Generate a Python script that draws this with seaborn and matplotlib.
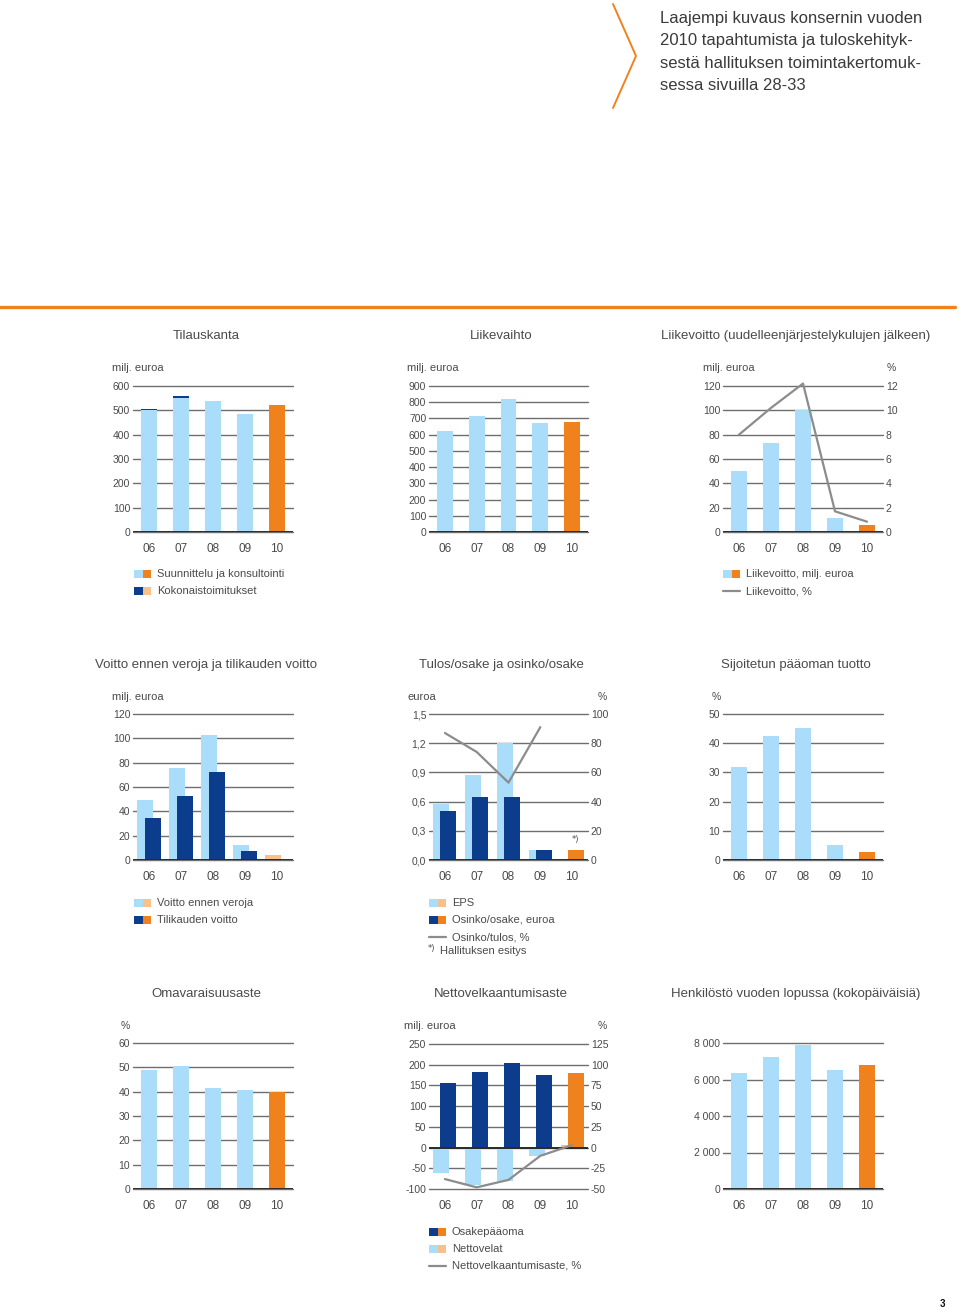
import numpy as np
import matplotlib
matplotlib.use("Agg")
import matplotlib.pyplot as plt
import seaborn as sns
from matplotlib.patches import Rectangle
from matplotlib.lines import Line2D

years = ['06', '07', '08', '09', '10']

# Tilauskanta, milj. euroa
order_design = [500, 550, 538, 483, 523]
order_turnkey = [5, 10, 0, 2]
# Liikevaihto
revenue = [621, 716, 818, 670, 681]
# Liikevoitto
ebit = [50, 73.5, 100, 11.5, 6]
ebit_pct = [8.0, 10.2, 12.2, 1.7, 0.85]
# Voitto ennen veroja / tilikauden voitto
pretax = [49.6, 75.9, 103, 12.3, 4.4]
net_profit = [34.5, 52.9, 72.3, 7.7]
# Tulos/osake, osinko/osake, osinko/tulos
eps = [0.577, 0.878, 1.20, 0.106]
dividend = [0.50, 0.65, 0.65, 0.10, 0.10]
payout_pct = [87, 74, 53, 91]
# Sijoitetun paaoman tuotto
roi = [31.8, 42.4, 45.3, 5.25, 2.6]
# Omavaraisuusaste
equity_ratio = [49.0, 50.7, 41.5, 40.7, 40.0]
# Nettovelkaantumisaste
equity = [156.5, 182, 203, 176, 180]
net_debt = [-61.8, -90.7, -80, -20, 6.4]
gearing = [-38, -48, -39, -10, 3]
# Henkilosto
staff = [6356, 7251, 7872, 6502, 6776]

LB = '#a9ddf9'
NV = '#0b3d8c'
OR = '#f0821e'
LO = '#f8c08c'
GR = '#8c8c8c'
TXT = '#4a4a4a'
GRID = '#6e6e6e'
AX = '#2a2a2a'

sns.set_theme(style='white')
plt.rcParams['font.family'] = ['Liberation Sans', 'DejaVu Sans']

W, H = 960, 1310
fig = plt.figure(figsize=(9.6, 13.1), dpi=100)


def fx(x):
    return x / W


def fy(y):
    return 1 - y / H


def panel(x0, y0, x1, y1):
    return fig.add_axes([fx(x0), fy(y1), (x1 - x0) / W, (y1 - y0) / H])


def bars(ax, vals, colors, shift=0.0, zorder=2):
    n = len(vals)
    xs = np.arange(n) + shift
    sns.barplot(x=xs, y=vals, hue=years[:n], palette=dict(zip(years, colors)),
                native_scale=True, width=0.5, legend=False, saturation=1,
                errorbar=None, linewidth=0, edgecolor='none', ax=ax, zorder=zorder)


def style(ax, ticks, labels):
    ax.set_ylim(ticks[0], ticks[-1])
    ax.set_yticks(ticks)
    ax.set_yticklabels(labels, fontsize=7.5, color=TXT)
    ax.set_xlim(-0.5, 4.5)
    ax.set_xticks(range(5))
    ax.set_xticklabels(years, fontsize=8.5, color=TXT)
    ax.tick_params(axis='y', length=0, pad=2)
    ax.tick_params(axis='x', length=0, pad=8)
    ax.grid(axis='y', color=GRID, lw=1.0)
    ax.grid(axis='x', visible=False)
    ax.set_axisbelow(True)
    for g in ax.get_ygridlines():
        g.set_clip_on(False)
    for s in ax.spines.values():
        s.set_visible(False)
    ax.axhline(0, color=AX, lw=1.4, zorder=5)
    ax.set_xlabel('')
    ax.set_ylabel('')


def right_axis(ax, ticks, labels, vals):
    ax2 = ax.twinx()
    sns.lineplot(x=np.arange(len(vals)), y=vals, color=GR, lw=1.6, ax=ax2)
    for ln in ax2.lines:
        ln.set_clip_on(False)
    ax2.set_ylim(ticks[0], ticks[-1])
    ax2.set_yticks(ticks)
    ax2.set_yticklabels(labels, fontsize=7.5, color=TXT)
    ax2.tick_params(axis='y', length=0, pad=2)
    ax2.grid(False)
    for s in ax2.spines.values():
        s.set_visible(False)
    ax2.set_xlim(-0.5, 4.5)
    ax2.set_xlabel('')
    ax2.set_ylabel('')
    return ax2


def ftext(x, y, s, size=8, **kw):
    kw.setdefault('color', TXT)
    kw.setdefault('va', 'center')
    fig.text(fx(x), fy(y), s, fontsize=size, **kw)


def leg_patch(x, y, colors, label):
    for i, c in enumerate(colors):
        fig.add_artist(Rectangle((fx(x + 8.5 * i), fy(y + 4)), 8.5 / W, 8 / H,
                                 transform=fig.transFigure, color=c, lw=0))
    ftext(x + 23, y, label)


def leg_line(x, y, label):
    fig.add_artist(Line2D([fx(x), fx(x + 17)], [fy(y), fy(y)], color=GR, lw=1.6,
                          transform=fig.transFigure))
    ftext(x + 23, y, label)


# header
fig.add_artist(Line2D([fx(613), fx(636), fx(613)], [fy(4), fy(56), fy(108)],
                      color=OR, lw=1.4, transform=fig.transFigure))
for i, line in enumerate(['Laajempi kuvaus konsernin vuoden',
                          '2010 tapahtumista ja tuloskehityk-',
                          'sestä hallituksen toimintakertomuk-',
                          'sessa sivuilla 28-33']):
    ftext(660, 19 + 22 * i, line, size=12, color='#3a3a3a')
fig.add_artist(Line2D([0, fx(955)], [fy(307), fy(307)], color=OR, lw=2.4,
                      transform=fig.transFigure))

blues = [LB] * 4 + [OR]
navies = [NV] * 4 + [OR]
lights = [LB] * 4 + [LO]

# Row 1 ---------------------------------------------------------------
ax = panel(133, 386, 293, 532)
totals = [a + b for a, b in zip(order_design, order_turnkey)]
bars(ax, totals, navies)
bars(ax, order_design, blues, zorder=3)
style(ax, list(range(0, 601, 100)), [str(v) for v in range(0, 601, 100)])
ftext(206, 336, 'Tilauskanta', size=9.5, ha='center')
ftext(112, 368, 'milj. euroa')
leg_patch(134, 574, [LB, OR], 'Suunnittelu ja konsultointi')
leg_patch(134, 591, [NV, LO], 'Kokonaistoimitukset')

ax = panel(429, 386, 588, 532)
bars(ax, revenue, blues)
style(ax, list(range(0, 901, 100)), [str(v) for v in range(0, 901, 100)])
ftext(501, 336, 'Liikevaihto', size=9.5, ha='center')
ftext(407, 368, 'milj. euroa')

ax = panel(723, 386, 883, 532)
bars(ax, ebit, blues)
style(ax, list(range(0, 121, 20)), [str(v) for v in range(0, 121, 20)])
right_axis(ax, list(range(0, 13, 2)), [str(v) for v in range(0, 13, 2)], ebit_pct)
ftext(796, 336, 'Liikevoitto (uudelleenjärjestelykulujen jälkeen)', size=9.5, ha='center')
ftext(703, 368, 'milj. euroa')
ftext(887, 368, '%', size=7.5)
leg_patch(723, 574, [LB, OR], 'Liikevoitto, milj. euroa')
leg_line(723, 591, 'Liikevoitto, %')

# Row 2 ---------------------------------------------------------------
ax = panel(133, 714, 293, 860)
bars(ax, pretax, lights, shift=-0.11)
bars(ax, net_profit, navies, shift=0.11, zorder=3)
style(ax, list(range(0, 121, 20)), [str(v) for v in range(0, 121, 20)])
ftext(206, 665, 'Voitto ennen veroja ja tilikauden voitto', size=9.5, ha='center')
ftext(112, 697, 'milj. euroa')
leg_patch(134, 903, [LB, LO], 'Voitto ennen veroja')
leg_patch(134, 920, [NV, OR], 'Tilikauden voitto')

ax = panel(429, 714, 588, 860)
bars(ax, eps, lights, shift=-0.11)
bars(ax, dividend, navies, shift=0.11, zorder=3)
style(ax, [0, 0.3, 0.6, 0.9, 1.2, 1.5], ['0,0', '0,3', '0,6', '0,9', '1,2', '1,5'])
right_axis(ax, list(range(0, 101, 20)), [str(v) for v in range(0, 101, 20)], payout_pct)
ax.annotate('*)', xy=(4.11, dividend[4]), xytext=(0, 6), textcoords='offset points',
            ha='center', fontsize=6, color=TXT, family='DejaVu Sans')
ftext(501, 665, 'Tulos/osake ja osinko/osake', size=9.5, ha='center')
ftext(408, 697, 'euroa')
ftext(598, 697, '%', size=7.5)
leg_patch(429, 903, [LB, LO], 'EPS')
leg_patch(429, 920, [NV, OR], 'Osinko/osake, euroa')
leg_line(429, 937, 'Osinko/tulos, %')
ftext(428, 948, '*)', size=6, family='DejaVu Sans')
ftext(440, 951, 'Hallituksen esitys')

ax = panel(723, 714, 883, 860)
bars(ax, roi, blues)
style(ax, list(range(0, 51, 10)), [str(v) for v in range(0, 51, 10)])
ftext(796, 665, 'Sijoitetun pääoman tuotto', size=9.5, ha='center')
ftext(712, 697, '%', size=7.5)

# Row 3 ---------------------------------------------------------------
ax = panel(133, 1043, 293, 1189)
bars(ax, equity_ratio, blues)
style(ax, list(range(0, 61, 10)), [str(v) for v in range(0, 61, 10)])
ftext(206, 994, 'Omavaraisuusaste', size=9.5, ha='center')
ftext(121, 1026, '%', size=7.5)

ax = panel(429, 1044, 588, 1189)
bars(ax, net_debt, lights, shift=-0.11)
bars(ax, equity, navies, shift=0.11, zorder=3)
style(ax, list(range(-100, 251, 50)), [str(v) for v in range(-100, 251, 50)])
right_axis(ax, list(range(-50, 126, 25)), [str(v) for v in range(-50, 126, 25)], gearing)
ftext(501, 994, 'Nettovelkaantumisaste', size=9.5, ha='center')
ftext(404, 1026, 'milj. euroa')
ftext(598, 1026, '%', size=7.5)
leg_patch(429, 1232, [NV, OR], 'Osakepääoma')
leg_patch(429, 1249, [LB, LO], 'Nettovelat')
leg_line(429, 1266, 'Nettovelkaantumisaste, %')

ax = panel(723, 1043, 883, 1189)
bars(ax, staff, blues)
style(ax, list(range(0, 8001, 2000)), ['0', '2 000', '4 000', '6 000', '8 000'])
ftext(796, 994, 'Henkilöstö vuoden lopussa (kokopäiväisiä)', size=9.5, ha='center')

ftext(942, 1304, '3', size=7, color='#111111', fontweight='bold', ha='center')

fig.savefig('out.png', dpi=100, facecolor='white')
